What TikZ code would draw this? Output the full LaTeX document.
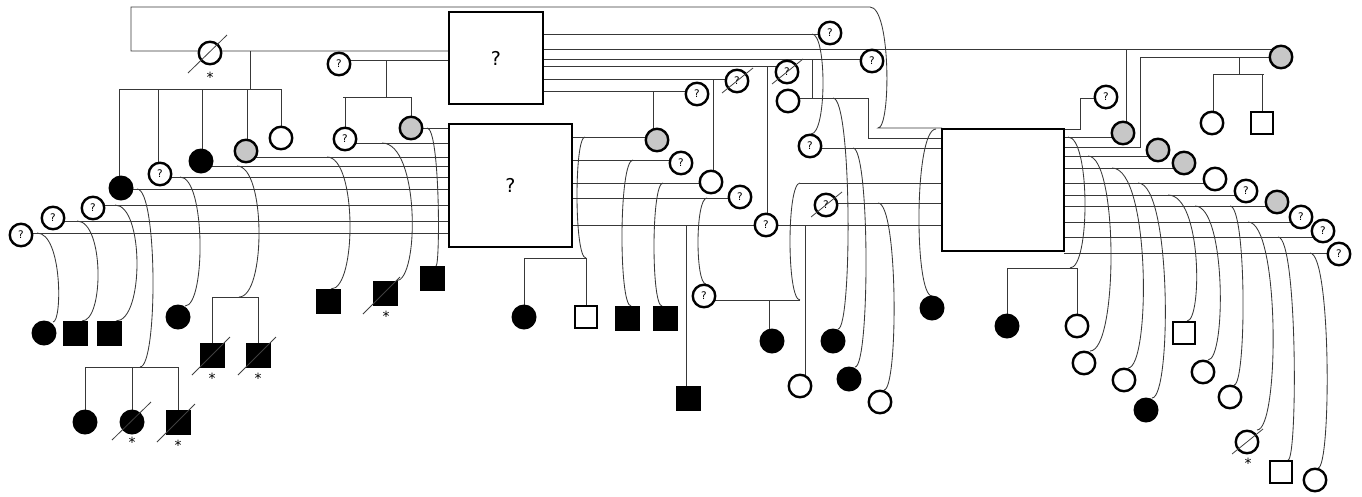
\documentclass[tikz,border=0pt]{standalone}
\usepackage{fontspec}
\newfontfamily\qfont{DejaVu Sans}
\newcommand\crv[5]{%
  \pgfmathsetmacro\cc{(8*#3-#1-#4)/6}%
  \draw[ln] (#1,#2) .. controls (\cc,#2) and (\cc,#5) .. (#4,#5);}
\newcommand\slashq[2]{\draw[sl] (#1-15,#2+12) -- (#1+16,#2-13);}
\newcommand\astr[3]{\node[ast] at (#1,#2+#3) {*};}
\begin{document}
\begin{tikzpicture}[x=1pt,y=-1pt,
  ln/.style={draw=black!78, line width=0.85pt},
  sl/.style={draw=black!75, line width=0.8pt},
  ast/.style={font=\qfont\fontsize{14}{14}\selectfont, inner sep=0pt},
  wc/.style={circle, draw=black, line width=2.4pt, minimum size=22.5pt, inner sep=0pt, fill=white},
  qc/.style={wc, font=\qfont\fontsize{10.5}{10.5}\selectfont},
  gc/.style={wc, fill=black!22},
  bc/.style={circle, fill=black, minimum size=25pt, inner sep=0pt},
  bs/.style={rectangle, fill=black, minimum size=25pt, inner sep=0pt},
  ws/.style={rectangle, draw=black, line width=2.4pt, minimum size=22.5pt, inner sep=0pt, fill=white},
  bigbox/.style={rectangle, draw=black, line width=2.6pt, fill=white, inner sep=0pt, font=\qfont\fontsize{19}{19}\selectfont}
]
\useasboundingbox (0,0) rectangle (1362,496);

% ---------------- lines: left part ----------------
\draw[ln] (449,51) -- (131,51) -- (131,7) -- (870,7) .. controls (891,7) and (891,128) .. (878,128) -- (942,128);
\draw[ln] (250,51) -- (250,89);
\draw[ln] (119,89) -- (281,89);
\foreach \x/\y in {119/188,158/174,202/161,247/151,281/138} \draw[ln] (\x,89) -- (\x,\y);
\draw[ln] (339,60) -- (449,60);
\draw[ln] (386,60) -- (386,97) (343,97) -- (411,97) (345,97) -- (345,139) (411,97) -- (411,128);
\foreach \x/\y in {411/128,345/143,246/157,201/166,160/177,121/189,93/205,53/221,21/233} \draw[ln] (\x,\y) -- (449,\y);
\crv{37}{233}{58}{53}{322}
\crv{77}{221}{98}{82}{321}
\crv{115}{205}{137}{116}{321}
\crv{137}{189}{153}{140}{367}
\crv{180}{177}{200}{185}{306}
\crv{237}{166}{259}{239}{297}
\crv{327}{157}{350}{331}{289}
\crv{382}{143}{412}{396}{281}
\crv{427}{128}{438}{436}{266}
\draw[ln] (85,367) -- (178,367) (85,367) -- (85,410) (132,367) -- (132,410) (178,367) -- (178,410);
\draw[ln] (212,297) -- (258,297) (212,297) -- (212,343) (258,297) -- (258,343);

% ---------------- lines: upper box right ----------------
\draw[ln] (543,34) -- (830,34);
\draw[ln] (543,49) -- (1275,49);
\draw[ln] (543,59) -- (872,59);
\draw[ln] (543,66) -- (787,66);
\draw[ln] (543,79) -- (737,79);
\draw[ln] (543,91) -- (697,91);
\draw[ln] (653,91) -- (653,130);
\draw[ln] (713,79) -- (713,172);
\draw[ln] (767,66) -- (767,215);
\draw[ln] (812,59) -- (812,98);
\crv{812}{34}{823}{811}{134}
\draw[ln] (788,98) -- (868,98) -- (868,138) -- (942,138);
\draw[ln] (810,148) -- (942,148);
\draw[ln] (826,203) -- (942,203);
\draw[ln] (800,183) -- (942,183);
\crv{800}{183}{790}{800}{300}
\draw[ln] (704,300) -- (800,300);
\draw[ln] (769,300) -- (769,330);
\draw[ln] (805,226) -- (805,375);
\crv{833}{98}{848}{838}{329}
\crv{853}{148}{866}{855}{367}
\crv{878}{203}{894}{884}{390}
\crv{936}{129}{919}{932}{296}

% ---------------- lines: lower box right ----------------
\draw[ln] (572,137) -- (657,137);
\draw[ln] (572,160) -- (681,160);
\draw[ln] (572,183) -- (711,183);
\draw[ln] (572,198) -- (740,198);
\draw[ln] (572,225) -- (942,225);
\crv{585}{137}{577}{586}{258}
\draw[ln] (524,258) -- (586,258) (524,258) -- (524,305) (586,258) -- (586,305);
\crv{633}{160}{622}{631}{306}
\crv{663}{183}{654}{662}{306}
\crv{707}{198}{698}{706}{284}
\draw[ln] (686,225) -- (686,386);

% ---------------- lines: right box right ----------------
\draw[ln] (1064,129) -- (1080,129) -- (1080,98) -- (1106,98);
\draw[ln] (1064,137) -- (1123,137);
\draw[ln] (1126,49) -- (1126,122);
\draw[ln] (1064,147) -- (1140,147) -- (1140,57) -- (1281,57);
\draw[ln] (1239,57) -- (1239,74) (1213,74) -- (1264,74) (1213,74) -- (1213,112) (1262,74) -- (1262,112);
\foreach \x/\y in {1158/156,1184/168,1215/183,1246/195,1277/206,1301/222,1323/237,1339/253} \draw[ln] (1064,\y) -- (\x,\y);
\crv{1068}{137}{1085}{1070}{268}
\draw[ln] (1007,268) -- (1077,268) (1007,268) -- (1007,314) (1077,268) -- (1077,314);
\crv{1088}{156}{1111}{1090}{351}
\crv{1112}{168}{1143}{1128}{368}
\crv{1138}{183}{1165}{1152}{398}
\crv{1168}{195}{1196}{1187}{321}
\crv{1195}{206}{1220}{1208}{360}
\crv{1230}{206}{1243}{1234}{385}
\crv{1248}{222}{1273}{1257}{430}
\crv{1278}{237}{1294}{1288}{460}
\crv{1310}{253}{1327}{1318}{468}

% ---------------- big boxes ----------------
\node[bigbox, minimum width=94pt, minimum height=92pt] (ub) at (496,58) {?};
\node[bigbox, minimum width=123pt, minimum height=123pt] (lb) at (510.5,185.5) {?};
\node[bigbox, minimum width=122pt, minimum height=122pt] (rb) at (1003,190) {};

% ---------------- persons: left ----------------
\node[wc] (p1) at (210,53) {};
\node[qc] (q2) at (339,64) {?};
\node[qc] (q3) at (345,139) {?};
\node[gc] (g4) at (411,128) {};
\node[bc] (b1) at (121,188) {};
\node[qc] (q1) at (160,174) {?};
\node[bc] (b2) at (201,161) {};
\node[gc] (g1) at (246,151) {};
\node[wc] (w1) at (281,138) {};
\node[qc] (qa) at (21,235) {?};
\node[qc] (qb) at (53,218) {?};
\node[qc] (qq) at (93,208) {?};
\node[bc] (c1) at (44,333) {};
\node[bs] (c2) at (75,333) {};
\node[bs] (c3) at (109,333) {};
\node[bc] (c4) at (85,422) {};
\node[bc] (c5) at (132,422) {};
\node[bs] (c6) at (178,422) {};
\node[bc] (c7) at (178,317) {};
\node[bs] (c8) at (212,355) {};
\node[bs] (c9) at (258,355) {};
\node[bs] (c10) at (328,301) {};
\node[bs] (c11) at (385,293) {};
\node[bs] (c12) at (432,278) {};

% ---------------- persons: middle ----------------
\node[qc] (qA) at (830,33) {?};
\node[qc] (qB) at (872,61) {?};
\node[qc] (dA) at (787,72) {?};
\node[qc] (dB) at (737,81) {?};
\node[qc] (qC) at (697,94) {?};
\node[wc] (wA) at (788,101) {};
\node[gc] (gA) at (657,140) {};
\node[qc] (qD) at (681,163) {?};
\node[wc] (wB) at (711,182) {};
\node[qc] (qE) at (740,197) {?};
\node[qc] (qF) at (766,225) {?};
\node[qc] (qG) at (810,146) {?};
\node[qc] (dC) at (826,205) {?};
\node[qc] (qH) at (704,296) {?};
\node[bc] (m1) at (524,317) {};
\node[ws] (m2) at (586,317) {};
\node[bs] (m3) at (627,318) {};
\node[bs] (m4) at (665,318) {};
\node[bs] (m5) at (688,398) {};
\node[bc] (m6) at (772,341) {};
\node[wc] (m7) at (800,386) {};
\node[bc] (m8) at (833,341) {};
\node[bc] (m9) at (849,379) {};
\node[wc] (m10) at (880,402) {};
\node[bc] (m11) at (932,308) {};

% ---------------- persons: right ----------------
\node[qc] (qR1) at (1106,97) {?};
\node[gc] (gR1) at (1123,133) {};
\node[gc] (gF) at (1281,57) {};
\node[wc] (wF1) at (1212,123) {};
\node[ws] (sF1) at (1262,123) {};
\node[gc] (gR2) at (1158,150) {};
\node[gc] (gR3) at (1184,163) {};
\node[wc] (wR1) at (1215,179) {};
\node[qc] (qR2) at (1246,191) {?};
\node[gc] (gR4) at (1277,202) {};
\node[qc] (qR3) at (1301,217) {?};
\node[qc] (qR4) at (1323,231) {?};
\node[qc] (qR5) at (1339,254) {?};
\node[bc] (r1) at (1007,326) {};
\node[wc] (r2) at (1077,326) {};
\node[wc] (r3) at (1084,363) {};
\node[wc] (r4) at (1124,380) {};
\node[bc] (r5) at (1146,410) {};
\node[ws] (r6) at (1184,333) {};
\node[wc] (r7) at (1203,372) {};
\node[wc] (r8) at (1230,397) {};
\node[wc] (r9) at (1247,442) {};
\node[ws] (r10) at (1281,472) {};
\node[wc] (r11) at (1315,480) {};

% ---------------- deceased marks ----------------
\draw[sl] (188,73) -- (227,35); \astr{210}{53}{24}
\draw[sl] (112,440) -- (151,402); \astr{132}{422}{20}
\draw[sl] (157,442) -- (195,404); \astr{178}{422}{23}
\draw[sl] (192,375) -- (230,337); \astr{212}{355}{23}
\draw[sl] (238,375) -- (276,337); \astr{258}{355}{23}
\draw[sl] (363,314) -- (400,277); \astr{386}{293}{23}
\slashq{737}{81}
\slashq{787}{72}
\slashq{826}{205}
\slashq{1247}{442} \astr{1248}{442}{21}
\end{tikzpicture}
\end{document}
